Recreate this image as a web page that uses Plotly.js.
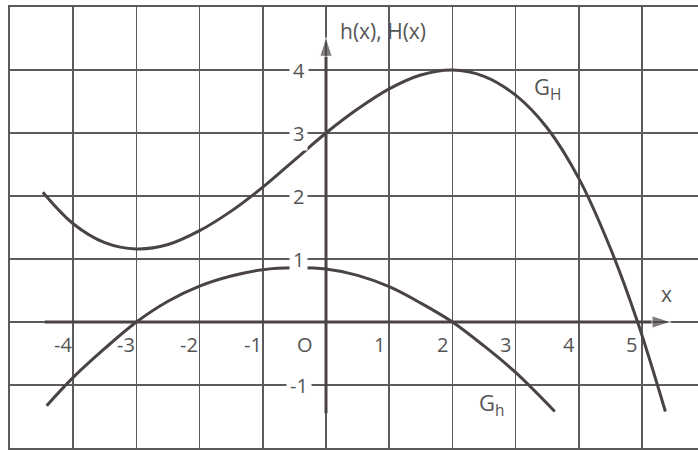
<!DOCTYPE html>
<html>
<head>
<meta charset="utf-8">
<script src="https://cdn.plot.ly/plotly-3.0.1.min.js"></script>
<style>
  html, body { margin:0; padding:0; background:#fff; }
  #chart { width:698px; height:450px; }
</style>
</head>
<body>
<div id="chart"></div>
<script>
// values (G_H and G_h)
const bigX = [-4.48, -4, -3.5, -3, -2.5, -2, -1.5, -1, -0.5, 0, 0.5, 1, 1.5, 2, 2.5, 3, 3.5, 4, 4.5, 4.93, 5.37];
const bigY = [2.06, 1.56, 1.26, 1.16, 1.23, 1.45, 1.76, 2.14, 2.57, 3, 3.38, 3.7, 3.92, 4, 3.9, 3.6, 3.08, 2.28, 1.17, 0, -1.42];

const smallX = [-4.42, -4, -3.5, -3, -2.5, -2, -1.5, -1, -0.5, 0, 0.5, 1, 1.5, 2, 2.5, 3, 3.62];
const smallY = [-1.33, -0.88, -0.42, 0, 0.33, 0.57, 0.73, 0.83, 0.86, 0.84, 0.74, 0.56, 0.3, 0, -0.38, -0.8, -1.42];

const xLabels = ['-4', '-3', '-2', '-1', 'O', '1', '2', '3', '4', '5'];
const xLabelAt = [-4, -3, -2, -1, 0, 1, 2, 3, 4, 5];
const yLabels = ['4', '3', '2', '1', '-1'];
const yLabelAt = [4, 3, 2, 1, -1];

const ink = '#4a4346';
const grid = '#5c5a5c';
const txt = '#555';
const font = 'Open Sans, Lato, sans-serif';

function curve(xs, ys){
  return {x: xs, y: ys, type: 'scatter', mode: 'lines',
    line: {shape: 'spline', smoothing: 1, color: ink, width: 3}, hoverinfo: 'skip'};
}
// axis with arrow tip at the end
function axis(xs, ys){
  return {x: xs, y: ys, type: 'scatter', mode: 'lines+markers',
    line: {color: ink, width: 3},
    marker: {symbol: 'arrow', angleref: 'previous', size: [0, 20], color: ink},
    hoverinfo: 'skip'};
}

const traces = [
  axis([-4.45, 5.46], [0, 0]),
  axis([0, 0], [-1.45, 4.52]),
  curve(bigX, bigY),
  curve(smallX, smallY)
];

const ann = [];
xLabels.forEach((t, i) => {
  const v = xLabelAt[i];
  ann.push({x: v === 0 ? v - 0.33 : v - 0.16, y: -0.36, xref: 'x', yref: 'y', text: t, showarrow: false,
    font: {family: font, size: 20, color: txt}});
});
yLabels.forEach((t, i) => {
  ann.push({x: -0.43, y: yLabelAt[i], xref: 'x', yref: 'y', text: t, showarrow: false,
    bgcolor: '#fff', borderpad: 3, font: {family: font, size: 20, color: txt}});
});

ann.push({x: 5.38, y: 0.45, xref: 'x', yref: 'y', text: 'x', showarrow: false, font: {family: font, size: 21, color: txt}});
ann.push({x: 0.9, y: 4.62, xref: 'x', yref: 'y', text: 'h(x), H(x)', showarrow: false, font: {family: font, size: 21, color: txt}});
ann.push({x: 3.5, y: 3.72, xref: 'x', yref: 'y', text: 'G<sub>H</sub>', showarrow: false, font: {family: font, size: 22, color: txt}});
ann.push({x: 2.62, y: -1.3, xref: 'x', yref: 'y', text: 'G<sub>h</sub>', showarrow: false, font: {family: font, size: 22, color: txt}});

const layout = {
  width: 698, height: 450,
  margin: {l: 10, r: 0, t: 7, b: 2},
  paper_bgcolor: '#fff', plot_bgcolor: '#fff',
  showlegend: false,
  xaxis: {range: [-5, 5.886], dtick: 1, tick0: 0, showgrid: true, gridcolor: grid, gridwidth: 1.6,
    zeroline: false, showticklabels: false, ticks: '', showline: true, mirror: true, linecolor: grid, linewidth: 1.6, fixedrange: true},
  yaxis: {range: [-2, 5], dtick: 1, tick0: 0, showgrid: true, gridcolor: grid, gridwidth: 1.6,
    zeroline: false, showticklabels: false, ticks: '', showline: true, mirror: false, linecolor: grid, linewidth: 1.6, fixedrange: true},
  annotations: ann
};

Plotly.newPlot('chart', traces, layout, {displayModeBar: false, staticPlot: true});
</script>
</body>
</html>
